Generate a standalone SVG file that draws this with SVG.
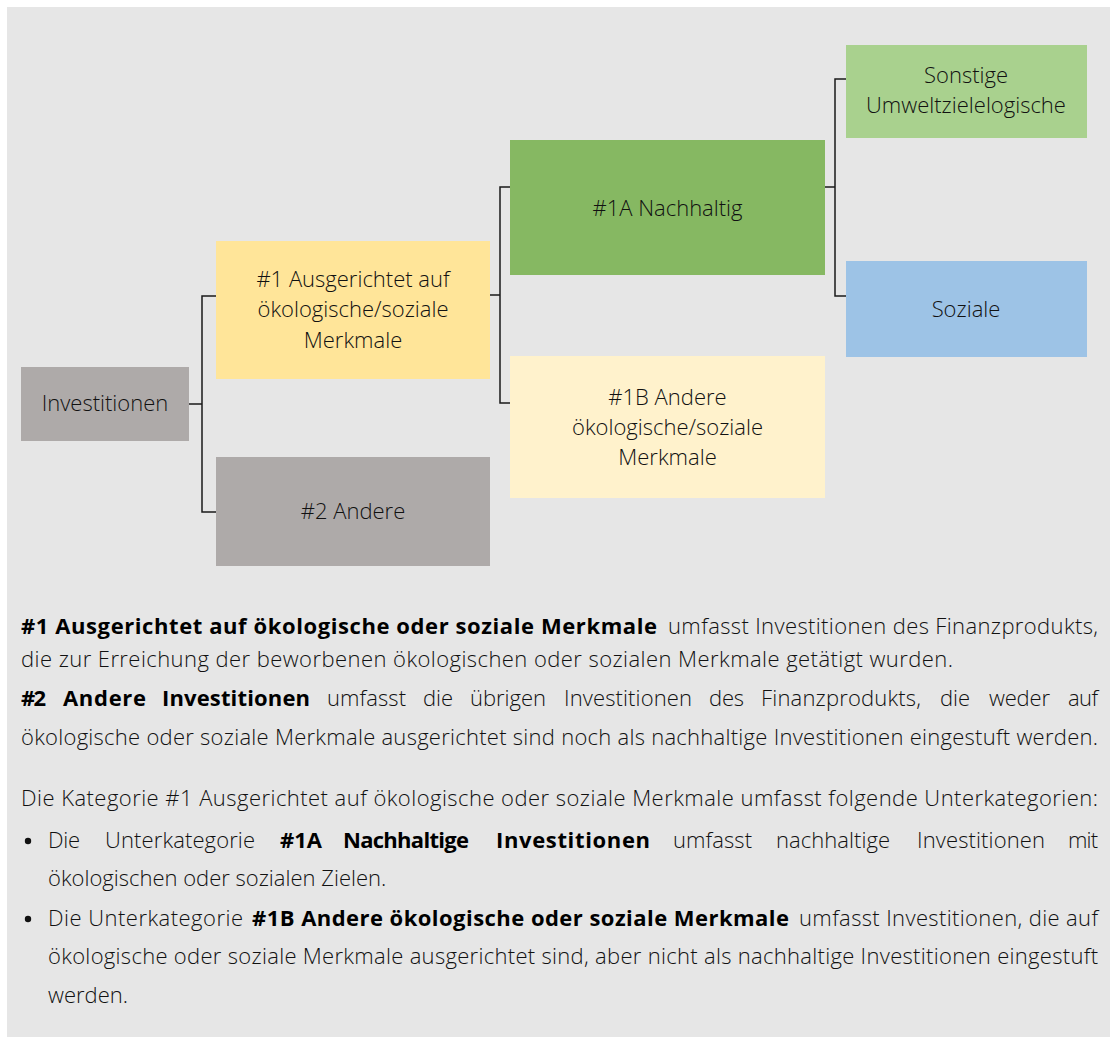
<svg xmlns="http://www.w3.org/2000/svg" width="1117" height="1043" viewBox="0 0 1117 1043">
<style>
.bg{fill:#e6e6e6}
.nt{font-family:"Open Sans","Noto Sans","DejaVu Sans",sans-serif;font-size:22px;font-weight:300;fill:#111;text-anchor:middle}
.bt{font-family:"Open Sans","Noto Sans","DejaVu Sans",sans-serif;font-size:22px;font-weight:300;fill:#111}
.b{font-weight:bold;font-size:22px;fill:#000}
.con{fill:none;stroke:#1a1a1a;stroke-width:1.5}
</style>
<rect class="bg" x="7" y="7" width="1103" height="1030"/>
<g id="connectors">
<path class="con" d="M189,404 H202 M216,296 H202 V512 H216"/>
<path class="con" d="M490,295 H500 M510,187 H500 V403 H510"/>
<path class="con" d="M825,187 H835 M846,79 H835 V296 H846"/>
</g>
<g id="n-investitionen">
<rect x="21" y="367" width="168" height="74" fill="#aeaaa9"/>
<text class="nt" x="105" y="411">Investitionen</text>
</g>
<g id="n-1">
<rect x="216" y="241" width="274" height="138" fill="#ffe599"/>
<text class="nt" x="353" y="287">#1 Ausgerichtet auf</text>
<text class="nt" x="353" y="317">ökologische/soziale</text>
<text class="nt" x="353" y="348">Merkmale</text>
</g>
<g id="n-2">
<rect x="216" y="457" width="274" height="109" fill="#aeaaa9"/>
<text class="nt" x="353" y="519">#2 Andere</text>
</g>
<g id="n-1a">
<rect x="510" y="140" width="315" height="135" fill="#86b862"/>
<text class="nt" x="667.5" y="216">#1A Nachhaltig</text>
</g>
<g id="n-1b">
<rect x="510" y="356" width="315" height="142" fill="#fff2cc"/>
<text class="nt" x="667.5" y="405">#1B Andere</text>
<text class="nt" x="667.5" y="435">ökologische/soziale</text>
<text class="nt" x="667.5" y="465">Merkmale</text>
</g>
<g id="n-sonstige">
<rect x="846" y="45" width="241" height="93" fill="#a9d18e"/>
<text class="nt" x="966" y="83">Sonstige</text>
<text class="nt" x="966" y="113">Umweltzielelogische</text>
</g>
<g id="n-soziale">
<rect x="846" y="261" width="241" height="96" fill="#9dc3e6"/>
<text class="nt" x="966" y="317">Soziale</text>
</g>
<g id="body-text">
<text class="bt" y="634"><tspan class="b" x="21" textLength="636">#1 Ausgerichtet auf ökologische oder soziale Merkmale</tspan><tspan x="668" textLength="430">umfasst Investitionen des Finanzprodukts,</tspan></text>
<text class="bt" x="21" y="667" textLength="932">die zur Erreichung der beworbenen ökologischen oder sozialen Merkmale getätigt wurden.</text>
<text class="bt" y="706"><tspan class="b" x="21" textLength="25">#2</tspan><tspan class="b" x="63" textLength="83">Andere</tspan><tspan class="b" x="162" textLength="148">Investitionen</tspan><tspan x="327" textLength="79">umfasst</tspan><tspan x="423" textLength="30">die</tspan><tspan x="470" textLength="76">übrigen</tspan><tspan x="564" textLength="128">Investitionen</tspan><tspan x="709" textLength="35">des</tspan><tspan x="761" textLength="160">Finanzprodukts,</tspan><tspan x="940" textLength="30">die</tspan><tspan x="989" textLength="61">weder</tspan><tspan x="1068" textLength="30">auf</tspan></text>
<text class="bt" x="21" y="745" textLength="1077">ökologische oder soziale Merkmale ausgerichtet sind noch als nachhaltige Investitionen eingestuft werden.</text>
<text class="bt" x="21" y="806" textLength="1077">Die Kategorie #1 Ausgerichtet auf ökologische oder soziale Merkmale umfasst folgende Unterkategorien:</text>
<circle cx="28" cy="841" r="3.2" fill="#111"/>
<text class="bt" y="848"><tspan x="48" textLength="32">Die</tspan><tspan x="105" textLength="150">Unterkategorie</tspan><tspan class="b" x="280" textLength="42">#1A</tspan><tspan class="b" x="343" textLength="126">Nachhaltige</tspan><tspan class="b" x="496" textLength="154">Investitionen</tspan><tspan x="673" textLength="79">umfasst</tspan><tspan x="776" textLength="114">nachhaltige</tspan><tspan x="917" textLength="128">Investitionen</tspan><tspan x="1068" textLength="30">mit</tspan></text>
<text class="bt" x="48" y="886">ökologischen oder sozialen Zielen.</text>
<circle cx="28" cy="919" r="3.2" fill="#111"/>
<text class="bt" y="926"><tspan x="48" textLength="195">Die Unterkategorie</tspan><tspan class="b" x="252" textLength="537">#1B Andere ökologische oder soziale Merkmale</tspan><tspan x="799" textLength="299">umfasst Investitionen, die auf</tspan></text>
<text class="bt" x="48" y="964" textLength="1050">ökologische oder soziale Merkmale ausgerichtet sind, aber nicht als nachhaltige Investitionen eingestuft</text>
<text class="bt" x="48" y="1003">werden.</text>
</g>
</svg>
